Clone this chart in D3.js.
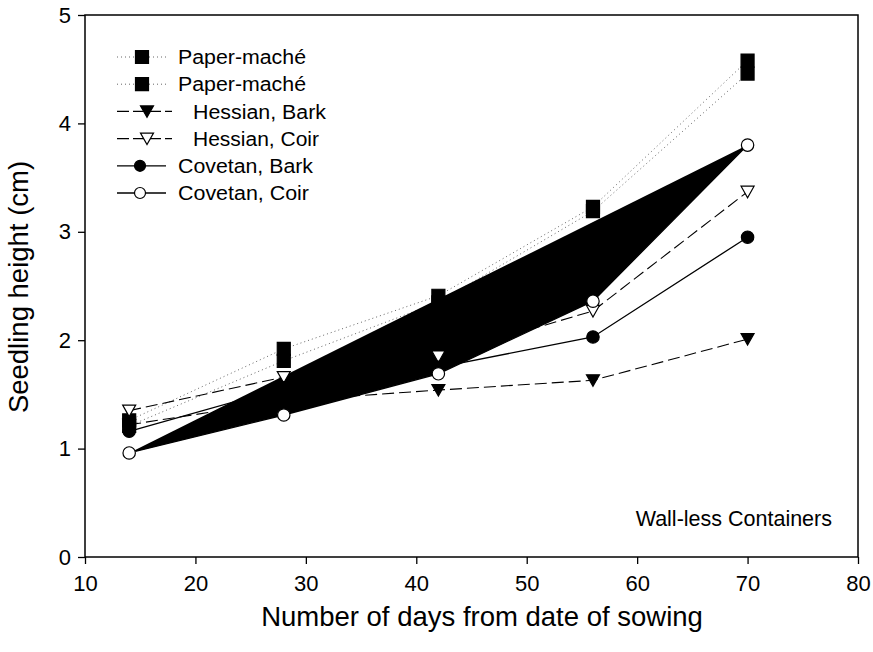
<!DOCTYPE html>
<html>
<head>
<meta charset="utf-8">
<script src="https://cdn.jsdelivr.net/npm/d3@7"></script>
<style>
  html, body { margin: 0; padding: 0; background: #fff; }
  svg { display: block; font-family: "Liberation Sans", Arial, sans-serif; }
</style>
</head>
<body>
<svg id="chart" width="873" height="652"></svg>
<script>
// ---- data ----
const days = [14, 28, 42, 56, 70];
const paperMacheA = [1.26, 1.92, 2.41, 3.23, 4.58];
const paperMacheB = [1.21, 1.81, 2.35, 3.19, 4.46];
const hessianBark = [1.22, 1.44, 1.54, 1.63, 2.01];
const hessianCoir = [1.35, 1.66, 1.85, 2.27, 3.37];
const covetanBark = [1.16, 1.56, 1.75, 2.03, 2.95];
const covetanCoir = [0.96, 1.31, 1.69, 2.36, 3.80];
const seriesNames = ["Paper-maché", "Paper-maché", "Hessian, Bark", "Hessian, Coir", "Covetan, Bark", "Covetan, Coir"];
const xTicks = [10, 20, 30, 40, 50, 60, 70, 80];
const yTicks = [0, 1, 2, 3, 4, 5];

const series = [
  { name: seriesNames[0], values: paperMacheA, line: "dot", marker: "square", fill: "#000" },
  { name: seriesNames[1], values: paperMacheB, line: "dot", marker: "square", fill: "#000" },
  { name: seriesNames[2], values: hessianBark, line: "dash", marker: "tri", fill: "#000" },
  { name: seriesNames[3], values: hessianCoir, line: "dash", marker: "tri", fill: "#fff" },
  { name: seriesNames[4], values: covetanBark, line: "solid", marker: "circle", fill: "#000" },
  { name: seriesNames[5], values: covetanCoir, line: "solid", marker: "circle", fill: "#fff", area: true }
];
// legend label start x and measured label widths
const legTextX = [178, 178, 193, 193, 178, 178];
const legTextW = [128, 128, 133, 126, 135, 131];

const svg = d3.select("#chart");
const L = 85, R = 858, T = 15, B = 557;
const x = d3.scaleLinear().domain([10, 80]).range([L, R]);
const y = d3.scaleLinear().domain([0, 5]).range([B, T]);

function lineStyle(sel, kind) {
  if (kind === "dot") sel.attr("stroke", "#666").attr("stroke-width", 1).attr("stroke-dasharray", "1,3");
  else if (kind === "dash") sel.attr("stroke", "#000").attr("stroke-width", 1.1).attr("stroke-dasharray", "12,5");
  else sel.attr("stroke", "#000").attr("stroke-width", 1.3);
}

function markerPath(kind) {
  if (kind === "square") return "M-6.5,-6.5H6.5V6.5H-6.5Z";
  if (kind === "tri") return "M-6.5,-5.5L6.5,-5.5L0,6Z";
  return d3.symbol().type(d3.symbolCircle).size(Math.PI * 6.2 * 6.2)();
}

// frame
svg.append("rect").attr("x", L).attr("y", T).attr("width", R - L).attr("height", B - T)
  .attr("fill", "none").attr("stroke", "#000").attr("stroke-width", 1.5);

// axes
const xAxis = svg.append("g").attr("transform", `translate(0,${B})`)
  .call(d3.axisBottom(x).tickValues(xTicks).tickSize(7).tickPadding(11).tickFormat(d3.format("d")));
const yAxis = svg.append("g").attr("transform", `translate(${L},0)`)
  .call(d3.axisLeft(y).tickValues(yTicks).tickSize(7).tickPadding(7).tickFormat(d3.format("d")));
[xAxis, yAxis].forEach(a => {
  a.select(".domain").remove();
  a.selectAll(".tick line").attr("stroke", "#000").attr("stroke-width", 1.3);
  a.selectAll(".tick text").attr("fill", "#000").attr("font-size", 22)
    .attr("font-family", "'Liberation Sans', Arial, sans-serif");
});

// lines (all first), Covetan Coir drawn with fill
const lineGen = d3.line().x((d, i) => x(days[i])).y(d => y(d));
series.forEach(s => {
  const p = svg.append("path").attr("d", lineGen(s.values)).attr("fill", s.area ? "#000" : "none");
  lineStyle(p, s.line);
});

// markers
series.forEach(s => {
  svg.append("g").selectAll("path").data(s.values).join("path")
    .attr("transform", (d, i) => `translate(${x(days[i])},${y(d)})`)
    .attr("d", markerPath(s.marker))
    .attr("fill", s.fill).attr("stroke", "#000").attr("stroke-width", 1.2);
});

// legend
const legY0 = 57, legStep = 27.2;
const leg = svg.append("g");
series.forEach((s, i) => {
  const yy = legY0 + i * legStep;
  const isH = s.marker === "tri";
  const x1 = 117, x2 = isH ? 172 : 166;
  const mx = s.marker === "square" ? 142 : (isH ? 147 : 140);
  const ln = leg.append("line").attr("x1", x1).attr("x2", x2).attr("y1", yy).attr("y2", yy);
  lineStyle(ln, s.line);
  if (s.line === "dash") ln.attr("stroke-dasharray", "12,4");
  leg.append("path").attr("transform", `translate(${mx},${yy})`)
    .attr("d", s.marker === "circle" ? d3.symbol().type(d3.symbolCircle).size(Math.PI * 5.5 * 5.5)() : markerPath(s.marker))
    .attr("fill", s.fill).attr("stroke", "#000").attr("stroke-width", 1.2);
  leg.append("text").attr("x", legTextX[i]).attr("y", yy).attr("dy", "0.36em")
    .attr("font-size", 20).attr("textLength", legTextW[i]).attr("lengthAdjust", "spacingAndGlyphs")
    .text(s.name);
});

// annotation
svg.append("text").attr("x", 832).attr("y", 526).attr("text-anchor", "end")
  .attr("font-size", 21.5).text("Wall-less Containers");

// axis titles
svg.append("text").attr("x", 482).attr("y", 626).attr("text-anchor", "middle")
  .attr("font-size", 27.5).text("Number of days from date of sowing");
svg.append("text").attr("transform", `translate(28,287) rotate(-90)`)
  .attr("text-anchor", "middle").attr("font-size", 27.5).text("Seedling height (cm)");
</script>
</body>
</html>
